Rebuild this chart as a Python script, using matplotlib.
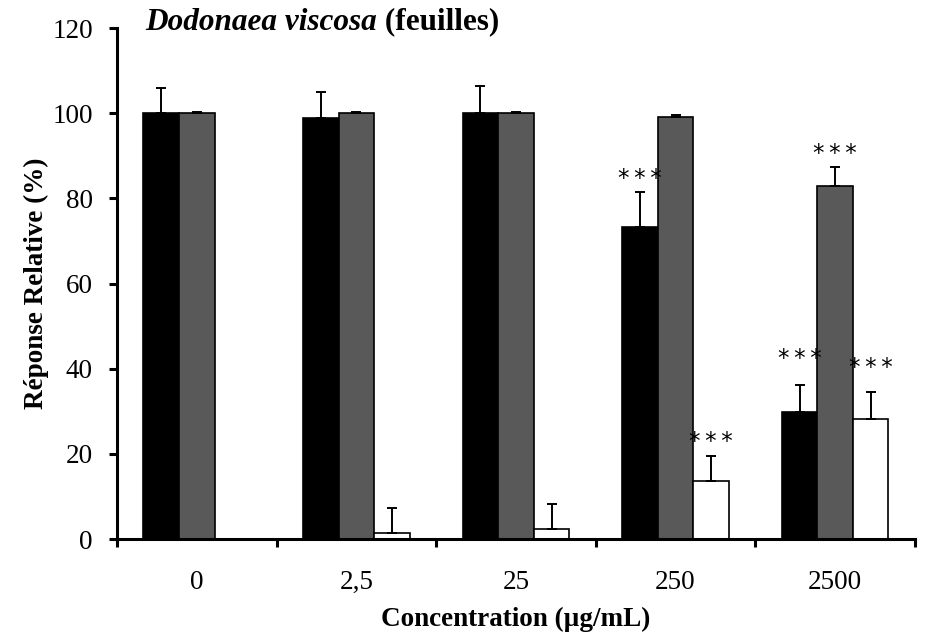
import matplotlib.pyplot as plt
import numpy as np

plt.rcParams['font.family'] = ['Liberation Serif', 'DejaVu Serif']

# concentrations (µg/mL) and relative responses (%)
concentrations = ['0', '2,5', '25', '250', '2500']
black_vals = [100, 98.8, 100, 73.4, 29.9]
black_err = [5.9, 6.1, 6.3, 8.2, 6.3]
gray_vals = [100, 100, 100, 99.2, 82.9]
gray_err = [0.2, 0.2, 0.2, 0.3, 4.6]
white_vals = [0, 1.5, 2.3, 13.6, 28.2]
white_err = [0, 5.9, 5.9, 5.9, 6.3]

# significance marks: (series index, group index, height of the mark)
stars = [(0, 3, 84.8), (2, 3, 23.0), (0, 4, 42.3), (1, 4, 90.5), (2, 4, 40.4)]

fig = plt.figure(figsize=(9.26, 6.36), dpi=100)
ax = fig.add_axes([0.1264, 0.1525, 0.8616, 0.8032])

x = np.arange(len(concentrations))
w = 0.223
series = [(black_vals, black_err, 'black'),
          (gray_vals, gray_err, '#595959'),
          (white_vals, white_err, 'white')]
for i, (vals, err, col) in enumerate(series):
    xs = x + (i - 1) * w
    lower = np.zeros(len(vals))
    ax.bar(xs, vals, width=w, color=col, edgecolor='black', linewidth=1.2,
           zorder=2)
    ax.errorbar(xs, vals, yerr=[lower, err], fmt='none', ecolor='black',
                elinewidth=1.4, capsize=3.8, capthick=1.4, zorder=3)

for s, g, h in stars:
    ax.text(x[g] + (s - 1) * w, h, '*\u2009*\u2009*', ha='center',
            va='center', fontsize=16.5, family='DejaVu Sans')

ax.set_xlim(-0.5, len(concentrations) - 0.5)
ax.set_ylim(0, 120)
ax.set_yticks(range(0, 121, 20))
ax.set_xticks(np.arange(-0.5, len(concentrations), 1.0))
ax.set_xticklabels([])
ax.set_xticks(x, minor=True)
ax.set_xticklabels(concentrations, minor=True)

for side in ['top', 'right']:
    ax.spines[side].set_visible(False)
for side in ['left', 'bottom']:
    ax.spines[side].set_linewidth(2.2)

ax.tick_params(axis='y', which='major', direction='out', length=5.5,
               width=2.2, labelsize=19.5, pad=12)
ax.tick_params(axis='x', which='major', direction='out', length=5.5,
               width=2.2)
ax.tick_params(axis='x', which='minor', length=0, labelsize=19.5, pad=22)

ax.set_ylabel('Réponse Relative (%)', fontsize=19.5, fontweight='bold',
              labelpad=2)
ax.set_xlabel('Concentration (µg/mL)', fontsize=19.5, fontweight='bold',
              labelpad=9)

t1 = ax.text(0.035, 1.012, 'Dodonaea viscosa', transform=ax.transAxes,
             fontsize=22.5, fontweight='bold', fontstyle='italic',
             ha='left', va='center')
ax.annotate(' (feuilles)', xy=(1, 0), xycoords=t1, va='bottom',
            fontsize=22.5, fontweight='bold')

fig.savefig('out.png', dpi=100)
